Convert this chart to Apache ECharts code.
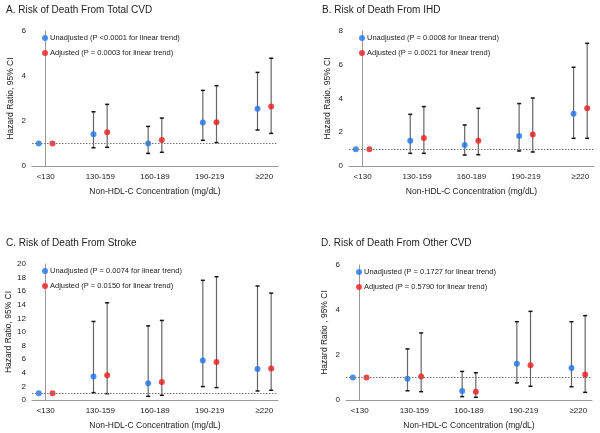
<!DOCTYPE html>
<html><head><meta charset="utf-8">
<script src="https://cdn.jsdelivr.net/npm/echarts@6/dist/echarts.min.js"></script>
<style>html,body{margin:0;padding:0;background:#fff}#c{width:600px;height:433px}</style>
</head><body><div id="c"></div>
<script>
const categories = ['<130', '130-159', '160-189', '190-219', '≥220'];
const panelTitles = ['A. Risk of Death From Total CVD', 'B. Risk of Death From IHD', 'C. Risk of Death From Stroke', 'D. Risk of Death From Other CVD'];
const unadjNames = ['Unadjusted (P <0.0001 for linear trend)', 'Unadjusted (P = 0.0008 for linear trend)', 'Unadjusted (P = 0.0074 for linear trend)', 'Unadjusted (P = 0.1727 for linear trend)'];
const adjNames = ['Adjusted (P = 0.0003 for linear trend)', 'Adjusted (P = 0.0021 for linear trend)', 'Adjusted (P = 0.0150 for linear trend)', 'Adjusted (P = 0.5790 for linear trend)'];
const yMax = [6, 8, 20, 6];
const yInterval = [2, 2, 2, 2];

// A. Total CVD
const A_unadj = [1.00, 1.41, 1.00, 1.93, 2.55];
const A_unadjLow = [1.00, 0.81, 0.56, 1.14, 1.60];
const A_unadjHigh = [1.00, 2.41, 1.76, 3.36, 4.16];
const A_adj = [1.00, 1.50, 1.16, 1.94, 2.64];
const A_adjLow = [1.00, 0.83, 0.61, 1.04, 1.45];
const A_adjHigh = [1.00, 2.74, 2.13, 3.57, 4.79];
// B. IHD
const B_unadj = [1.00, 1.50, 1.25, 1.78, 3.10];
const B_unadjLow = [1.00, 0.75, 0.65, 0.89, 1.64];
const B_unadjHigh = [1.00, 3.06, 2.43, 3.70, 5.85];
const B_adj = [1.00, 1.66, 1.50, 1.86, 3.42];
const B_adjLow = [1.00, 0.75, 0.67, 0.83, 1.64];
const B_adjHigh = [1.00, 3.52, 3.42, 4.03, 7.27];
// C. Stroke
const C_unadj = [1.00, 3.44, 2.46, 5.80, 4.57];
const C_unadjLow = [1.00, 1.08, 0.54, 1.97, 1.33];
const C_unadjHigh = [1.00, 11.55, 10.90, 17.60, 16.76];
const C_adj = [1.00, 3.64, 2.65, 5.60, 4.62];
const C_adjLow = [1.00, 0.93, 0.69, 1.82, 1.43];
const C_adjHigh = [1.00, 14.30, 11.70, 18.13, 15.72];
// D. Other CVD
const D_unadj = [1.00, 0.95, 0.40, 1.61, 1.42];
const D_unadjLow = [1.00, 0.41, 0.15, 0.76, 0.59];
const D_unadjHigh = [1.00, 2.27, 1.27, 3.48, 3.48];
const D_adj = [1.00, 1.04, 0.37, 1.54, 1.13];
const D_adjLow = [1.00, 0.37, 0.12, 0.61, 0.34];
const D_adjHigh = [1.00, 2.98, 1.21, 3.94, 3.75];

const panels = [
  {u: A_unadj, ul: A_unadjLow, uh: A_unadjHigh, a: A_adj, al: A_adjLow, ah: A_adjHigh},
  {u: B_unadj, ul: B_unadjLow, uh: B_unadjHigh, a: B_adj, al: B_adjLow, ah: B_adjHigh},
  {u: C_unadj, ul: C_unadjLow, uh: C_unadjHigh, a: C_adj, al: C_adjLow, ah: C_adjHigh},
  {u: D_unadj, ul: D_unadjLow, uh: D_unadjHigh, a: D_adj, al: D_adjLow, ah: D_adjHigh}
];

const BLUE = '#1e74ee', RED = '#ee1b1b';
const OFF = 0.125;
const FONT = 'Liberation Sans, Arial, sans-serif';

const grids = [
  {left: 32, top: 31, width: 246, height: 135},
  {left: 349, top: 31, width: 245, height: 135},
  {left: 32, top: 264, width: 246, height: 136},
  {left: 346, top: 265, width: 246, height: 135}
];
const titlePos = [[1, 0], [317, 0], [1, 233], [316, 233]];

const option = {
  animation: false,
  backgroundColor: '#fff',
  textStyle: {fontFamily: FONT},
  title: panelTitles.map((t, i) => ({text: t, left: titlePos[i][0], top: titlePos[i][1],
    textStyle: {fontSize: 10, fontWeight: 'normal', color: '#222', fontFamily: FONT}})),
  legend: panels.map((p, i) => ({
    data: [unadjNames[i], adjNames[i]], orient: 'vertical',
    left: grids[i].left + 5, top: grids[i].top - 2,
    itemWidth: 6, itemHeight: 6, itemGap: 7, icon: 'circle',
    textStyle: {fontSize: 7.5, color: '#222', fontFamily: FONT, padding: [0, 0, 0, -3]}
  })),
  grid: grids,
  xAxis: grids.map((g, i) => ({
    type: 'value', gridIndex: i, min: -0.25, max: 4.25,
    splitLine: {show: false}, axisTick: {show: false},
    axisLine: {lineStyle: {color: '#999'}},
    axisLabel: {customValues: [0, 1, 2, 3, 4], formatter: v => categories[Math.round(v)], fontSize: 8, color: '#222', margin: 7},
    name: 'Non-HDL-C Concentration (mg/dL)', nameLocation: 'middle', nameGap: 21,
    nameTextStyle: {fontSize: 8.5, color: '#222'}
  })),
  yAxis: grids.map((g, i) => ({
    type: 'value', gridIndex: i, min: 0, max: yMax[i], interval: yInterval[i],
    splitLine: {show: false}, axisTick: {show: false},
    axisLine: {show: true, lineStyle: {color: '#999'}},
    axisLabel: {fontSize: 8, color: '#222', margin: 6},
    name: i === 3 ? 'Hazard Ratio , 95% CI' : 'Hazard Ratio, 95% CI', nameLocation: 'middle', nameGap: 17,
    nameTextStyle: {fontSize: 8.5, color: '#222'}
  })),
  series: []
};

function errRender(params, api) {
  const x = api.value(0), lo = api.value(1), hi = api.value(2);
  if (lo === hi) return null;
  const pLo = api.coord([x, lo]), pHi = api.coord([x, hi]);
  const cw = 2;
  return {type: 'group', children: [
    {type: 'line', shape: {x1: pLo[0], y1: pLo[1], x2: pHi[0], y2: pHi[1]}, style: {stroke: '#666', lineWidth: 1.2}},
    {type: 'line', shape: {x1: pLo[0] - cw, y1: pLo[1], x2: pLo[0] + cw, y2: pLo[1]}, style: {stroke: '#111', lineWidth: 1.5}},
    {type: 'line', shape: {x1: pHi[0] - cw, y1: pHi[1], x2: pHi[0] + cw, y2: pHi[1]}, style: {stroke: '#111', lineWidth: 1.5}}
  ]};
}

panels.forEach((p, i) => {
  const ux = categories.map((c, k) => k - OFF), ax = categories.map((c, k) => k + OFF);
  option.series.push({type: 'custom', xAxisIndex: i, yAxisIndex: i, renderItem: errRender, z: 1,
    data: ux.map((x, k) => [x, p.ul[k], p.uh[k]])});
  option.series.push({type: 'custom', xAxisIndex: i, yAxisIndex: i, renderItem: errRender, z: 1,
    data: ax.map((x, k) => [x, p.al[k], p.ah[k]])});
  option.series.push({type: 'scatter', name: unadjNames[i], xAxisIndex: i, yAxisIndex: i, symbolSize: 6, z: 3,
    itemStyle: {color: BLUE}, data: ux.map((x, k) => [x, p.u[k]]),
    markLine: {silent: true, symbol: 'none', label: {show: false}, lineStyle: {color: '#777', type: [1.5, 1.5], width: 1},
      data: [{yAxis: 1}]}});
  option.series.push({type: 'scatter', name: adjNames[i], xAxisIndex: i, yAxisIndex: i, symbolSize: 6, z: 3,
    itemStyle: {color: RED}, data: ax.map((x, k) => [x, p.a[k]])});
});

const chart = echarts.init(document.getElementById('c'), null, {renderer: 'canvas'});
chart.setOption(option);
</script></body></html>
